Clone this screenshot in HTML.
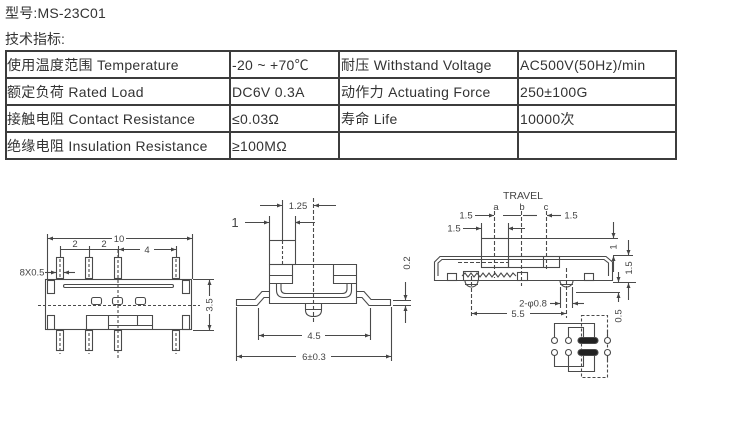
<!DOCTYPE html>
<html><head><meta charset="utf-8">
<style>
html,body{margin:0;padding:0;background:#fff;}
body{width:730px;height:432px;position:relative;overflow:hidden;font-family:"Liberation Sans","Noto Sans CJK SC",sans-serif;color:#333;}
.t{position:absolute;font-size:14px;line-height:18px;white-space:nowrap;}
.h{position:absolute;height:2px;background:#3c3c3c;}
.v{position:absolute;width:2px;background:#3c3c3c;}
.c{position:absolute;font-size:14px;line-height:26px;height:26px;white-space:nowrap;color:#333;letter-spacing:0.3px;}
svg{position:absolute;left:0;top:0;}
svg text{font-family:"Liberation Sans",sans-serif;fill:#444;}
</style></head><body>
<div class="t" style="left:5px;top:4px;letter-spacing:0.2px;">型号:MS-23C01</div>
<div class="t" style="left:5px;top:30px;">技术指标:</div>

<div class="h" style="left:5px;top:50px;width:672px;"></div>
<div class="h" style="left:5px;top:77px;width:672px;"></div>
<div class="h" style="left:5px;top:104px;width:672px;"></div>
<div class="h" style="left:5px;top:131px;width:672px;"></div>
<div class="h" style="left:5px;top:158px;width:672px;"></div>
<div class="v" style="left:5px;top:50px;height:110px;"></div>
<div class="v" style="left:229px;top:50px;height:110px;"></div>
<div class="v" style="left:338px;top:50px;height:110px;"></div>
<div class="v" style="left:517px;top:50px;height:110px;"></div>
<div class="v" style="left:675px;top:50px;height:110px;"></div>

<div class="c" style="left:7px;top:52px;">使用温度范围 Temperature</div>
<div class="c" style="left:232px;top:52px;">-20 ~ +70℃</div>
<div class="c" style="left:341px;top:52px;">耐压 Withstand Voltage</div>
<div class="c" style="left:520px;top:52px;">AC500V(50Hz)/min</div>

<div class="c" style="left:7px;top:79px;">额定负荷 Rated Load</div>
<div class="c" style="left:232px;top:79px;">DC6V 0.3A</div>
<div class="c" style="left:341px;top:79px;">动作力 Actuating Force</div>
<div class="c" style="left:520px;top:79px;">250±100G</div>

<div class="c" style="left:7px;top:106px;">接触电阻 Contact Resistance</div>
<div class="c" style="left:232px;top:106px;">≤0.03Ω</div>
<div class="c" style="left:341px;top:106px;">寿命 Life</div>
<div class="c" style="left:520px;top:106px;">10000次</div>

<div class="c" style="left:7px;top:133px;">绝缘电阻 Insulation Resistance</div>
<div class="c" style="left:232px;top:133px;">≥100MΩ</div>

<svg width="730" height="432" viewBox="0 0 730 432">
<defs>
<marker id="ar" markerWidth="6" markerHeight="6" refX="5" refY="3" orient="auto" markerUnits="userSpaceOnUse">
<path d="M0,1 L5,3 L0,5 Z" fill="#444"/>
</marker>
</defs>
<g stroke="#4a4a4a" stroke-width="1.1" fill="none">
<!-- ===== LEFT DRAWING ===== -->
<rect x="56.5" y="257.5" width="7" height="21"/>
<rect x="85.5" y="257.5" width="7" height="21"/>
<rect x="114.5" y="257.5" width="7" height="21"/>
<rect x="172.5" y="257.5" width="7" height="21"/>
<rect x="56.5" y="330.5" width="7" height="20"/>
<rect x="85.5" y="330.5" width="7" height="20"/>
<rect x="114.5" y="330.5" width="7" height="20"/>
<rect x="172.5" y="330.5" width="7" height="20"/>
<g stroke-dasharray="3,2">
<line x1="60" y1="259" x2="60" y2="277"/><line x1="89" y1="259" x2="89" y2="277"/><line x1="176" y1="259" x2="176" y2="277"/>
<line x1="60" y1="333" x2="60" y2="354"/><line x1="89" y1="333" x2="89" y2="354"/><line x1="176" y1="333" x2="176" y2="354"/>
<line x1="118" y1="250" x2="118" y2="358"/>
<line x1="38" y1="305.5" x2="200" y2="305.5"/>
</g>
<rect x="45.5" y="279.5" width="146" height="50"/>
<rect x="47.5" y="280.5" width="7" height="13"/>
<rect x="182.5" y="280.5" width="7" height="13"/>
<rect x="47.5" y="315.5" width="7" height="14"/>
<rect x="182.5" y="315.5" width="7" height="14"/>
<rect x="63.5" y="284.5" width="110" height="3" rx="1.5"/>
<rect x="91.5" y="297.5" width="10" height="7" rx="2"/>
<rect x="112.5" y="297.5" width="10" height="7" rx="2"/>
<rect x="135.5" y="297.5" width="10" height="7" rx="2"/>
<path d="M86.5,329.5 V315.5 H152.5 V329.5 M108.5,329.5 V315.5 M108.5,325.5 H152.5 M137.5,315.5 V325.5"/>
<line x1="47.5" y1="234" x2="47.5" y2="279"/>
<line x1="192.5" y1="234" x2="192.5" y2="279"/>
<line x1="112" y1="238.5" x2="48" y2="238.5" marker-end="url(#ar)"/>
<line x1="126" y1="238.5" x2="192" y2="238.5" marker-end="url(#ar)"/>
<line x1="60.5" y1="246" x2="60.5" y2="257"/>
<line x1="89.5" y1="246" x2="89.5" y2="257"/>
<line x1="118.5" y1="246" x2="118.5" y2="257"/>
<line x1="176.5" y1="246" x2="176.5" y2="257"/>
<line x1="61" y1="249.5" x2="89" y2="249.5"/>
<line x1="90" y1="249.5" x2="118" y2="249.5"/>
<line x1="140" y1="249.5" x2="119" y2="249.5" marker-end="url(#ar)"/>
<line x1="154" y1="249.5" x2="176" y2="249.5" marker-end="url(#ar)"/>
<line x1="45" y1="272.5" x2="56" y2="272.5" marker-end="url(#ar)"/>
<line x1="75" y1="272.5" x2="64" y2="272.5" marker-end="url(#ar)"/>
<line x1="193" y1="279.5" x2="214" y2="279.5"/>
<line x1="193" y1="330.5" x2="214" y2="330.5"/>
<line x1="209.5" y1="296" x2="209.5" y2="280" marker-end="url(#ar)"/>
<line x1="209.5" y1="314" x2="209.5" y2="330" marker-end="url(#ar)"/>

<!-- ===== MIDDLE DRAWING ===== -->
<line x1="313.5" y1="198" x2="313.5" y2="322" stroke-dasharray="4,2"/>
<line x1="282.5" y1="200" x2="282.5" y2="240"/>
<line x1="282.5" y1="241" x2="282.5" y2="264" stroke-dasharray="3,2"/>
<line x1="260" y1="205.5" x2="282" y2="205.5" marker-end="url(#ar)"/>
<line x1="336" y1="205.5" x2="314" y2="205.5" marker-end="url(#ar)"/>
<line x1="245" y1="222.5" x2="269" y2="222.5" marker-end="url(#ar)"/>
<line x1="315" y1="222.5" x2="295" y2="222.5" marker-end="url(#ar)"/>
<line x1="269.5" y1="216" x2="269.5" y2="240"/>
<line x1="295.5" y1="216" x2="295.5" y2="240"/>
<rect x="269.5" y="240.5" width="26" height="24"/>
<path d="M269.5,264.5 V303.5 H356.5 V264.5 H295.5"/>
<path d="M269.5,275.5 H292.5 M269.5,283.5 H292.5 V264.5"/>
<path d="M333.5,264.5 V283.5 H356.5 M333.5,275.5 H356.5"/>
<path d="M276.5,283.5 V290 Q276.5,297.5 284,297.5 H344 Q351.5,297.5 351.5,290 V283.5"/>
<path d="M281,283.5 V289 Q281,293.5 286,293.5 H342 Q347,293.5 347,289 V283.5"/>
<path d="M269.5,291.5 H262 L255,299.5 H236.5 V305.5 H257 L264,297.5 H269.5"/>
<path d="M356.5,291.5 H364 L371,299.5 H390.5 V305.5 H369 L362,297.5 H356.5"/>
<path d="M305.5,303.5 V310 Q305.5,316.5 313.5,316.5 Q321.5,316.5 321.5,310 V303.5 M305.5,309.5 H321.5"/>
<line x1="258.5" y1="308" x2="258.5" y2="340"/>
<line x1="370.5" y1="308" x2="370.5" y2="340"/>
<line x1="302" y1="335.5" x2="259" y2="335.5" marker-end="url(#ar)"/>
<line x1="325" y1="335.5" x2="370" y2="335.5" marker-end="url(#ar)"/>
<line x1="236.5" y1="307" x2="236.5" y2="361"/>
<line x1="391.5" y1="307" x2="391.5" y2="361"/>
<line x1="296" y1="356.5" x2="237" y2="356.5" marker-end="url(#ar)"/>
<line x1="331" y1="356.5" x2="391" y2="356.5" marker-end="url(#ar)"/>
<line x1="393" y1="300.5" x2="411" y2="300.5"/>
<line x1="393" y1="305.5" x2="411" y2="305.5"/>
<line x1="405.5" y1="282" x2="405.5" y2="300" marker-end="url(#ar)"/>
<line x1="405.5" y1="323" x2="405.5" y2="306" marker-end="url(#ar)"/>

<!-- ===== RIGHT DRAWING ===== -->
<g stroke-dasharray="4,2">
<line x1="494.5" y1="211" x2="494.5" y2="278"/>
<line x1="521.5" y1="211" x2="521.5" y2="286"/>
<line x1="546.5" y1="211" x2="546.5" y2="270"/>
<line x1="471.5" y1="276" x2="471.5" y2="318"/>
<line x1="566.5" y1="268" x2="566.5" y2="318"/>
<line x1="458" y1="262.5" x2="508" y2="262.5"/>
</g>
<line x1="475" y1="215.5" x2="494" y2="215.5" marker-end="url(#ar)"/>
<line x1="503" y1="215.5" x2="521" y2="215.5"/>
<line x1="523" y1="215.5" x2="537" y2="215.5"/>
<line x1="561" y1="215.5" x2="547" y2="215.5" marker-end="url(#ar)"/>
<line x1="463" y1="228.5" x2="481" y2="228.5" marker-end="url(#ar)"/>
<line x1="525" y1="228.5" x2="508" y2="228.5" marker-end="url(#ar)"/>
<line x1="481.5" y1="223" x2="481.5" y2="238"/>
<line x1="508.5" y1="223" x2="508.5" y2="238"/>
<rect x="481.5" y="238.5" width="27" height="29"/>
<line x1="508.5" y1="238.5" x2="618" y2="238.5"/>
<path d="M434.5,280.5 V262 L440,256.5 H606 L612.5,262 V280.5 Z"/>
<path d="M438,276 V263 L442,259.5 H604 L608.5,263 V276"/>
<rect x="508.5" y="256.5" width="51" height="11"/>
<line x1="543.5" y1="256.5" x2="543.5" y2="267.5"/>
<rect x="447.5" y="273.5" width="9" height="7"/>
<rect x="463.5" y="271.5" width="15" height="9"/>
<rect x="517.5" y="272.5" width="10" height="8"/>
<rect x="584.5" y="273.5" width="9" height="7"/>
<polyline points="462,276 465,273 468,277 471,273 474,277 477,273 480,277 483,273 486,277 489,273 492,277 495,273 498,277 501,273 504,277 507,273 510,277 513,273 516,276"/>
<path d="M465,280.5 A6.5,6.5 0 0 0 478,280.5 M465,284.5 H478"/>
<path d="M560,280.5 A6.5,6.5 0 0 0 573,280.5 M560,284.5 H573"/>
<line x1="560.5" y1="287" x2="560.5" y2="308"/>
<line x1="572.5" y1="287" x2="572.5" y2="308"/>
<line x1="550" y1="303.5" x2="560" y2="303.5" marker-end="url(#ar)"/>
<line x1="584" y1="303.5" x2="573" y2="303.5" marker-end="url(#ar)"/>
<line x1="507" y1="313.5" x2="472" y2="313.5" marker-end="url(#ar)"/>
<line x1="530" y1="313.5" x2="566" y2="313.5" marker-end="url(#ar)"/>
<line x1="613" y1="255.5" x2="633" y2="255.5"/>
<line x1="613" y1="282.5" x2="636" y2="282.5"/>
<line x1="576" y1="292.5" x2="620" y2="292.5"/>
<line x1="613.5" y1="222" x2="613.5" y2="238" marker-end="url(#ar)"/>
<line x1="613.5" y1="272" x2="613.5" y2="256" marker-end="url(#ar)"/>
<line x1="628.5" y1="240" x2="628.5" y2="255" marker-end="url(#ar)"/>
<line x1="628.5" y1="300" x2="628.5" y2="283" marker-end="url(#ar)"/>
<line x1="618.5" y1="272" x2="618.5" y2="282" marker-end="url(#ar)"/>
<line x1="618.5" y1="302" x2="618.5" y2="293" marker-end="url(#ar)"/>
<rect x="581.5" y="315.5" width="26" height="62" stroke-dasharray="3,2"/>
<path d="M554.5,337 V323.5 H594.5 V337"/>
<path d="M568.5,337 V327.5 H583.5 V337"/>
<path d="M554.5,355 V366.5 H583.5 V355"/>
<path d="M568.5,355 V371.5 H594.5 V355"/>
<path d="M607.5,337 V330 M607.5,355 V362"/>
<g fill="#fff">
<circle cx="554.5" cy="340.5" r="3"/><circle cx="568.5" cy="340.5" r="3"/><circle cx="607.5" cy="340.5" r="3"/>
<circle cx="554.5" cy="352.5" r="3"/><circle cx="568.5" cy="352.5" r="3"/><circle cx="607.5" cy="352.5" r="3"/>
</g>
<rect x="578" y="337.5" width="20" height="6" rx="3" fill="#222"/>
<rect x="578" y="349.5" width="20" height="6" rx="3" fill="#222"/>
</g>

<g font-size="9.5" text-anchor="middle">
<text x="119" y="242">10</text>
<text x="75" y="247">2</text>
<text x="104" y="247">2</text>
<text x="147" y="253">4</text>
<text x="32" y="275.5">8X0.5</text>
<text transform="translate(212.5,305) rotate(-90)">3.5</text>
<text x="298" y="209">1.25</text>
<text x="314" y="339">4.5</text>
<text x="314" y="360">6±0.3</text>
<text transform="translate(410,263) rotate(-90)">0.2</text>
<text x="523" y="199" font-size="10.5">TRAVEL</text>
<text x="496" y="210">a</text>
<text x="522" y="210">b</text>
<text x="546" y="210">c</text>
<text x="466" y="218.5">1.5</text>
<text x="571" y="218.5">1.5</text>
<text x="454" y="231.5">1.5</text>
<text x="533" y="306.5">2-φ0.8</text>
<text x="518" y="317">5.5</text>
<text transform="translate(616.5,247) rotate(-90)">1</text>
<text transform="translate(632,268) rotate(-90)">1.5</text>
<text transform="translate(621.5,316) rotate(-90)">0.5</text>
</g>
<text x="235" y="227" font-size="13" text-anchor="middle">1</text>
</svg>
</body></html>
